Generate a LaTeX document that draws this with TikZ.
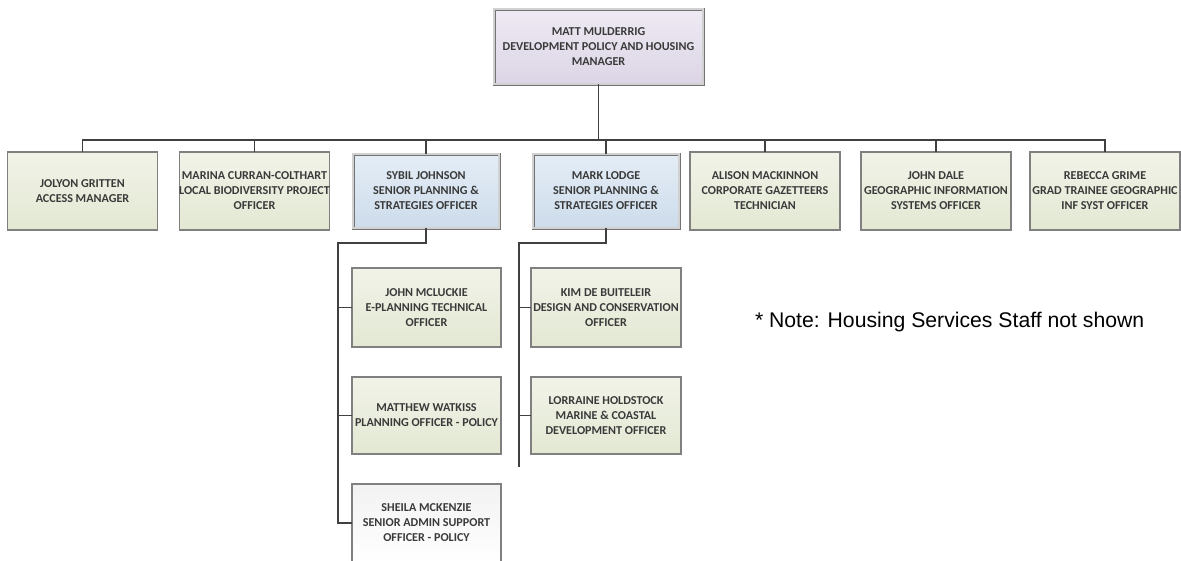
\documentclass[tikz,border=0pt]{standalone}
\usepackage{fontspec}
\setmainfont{Carlito}
\newfontfamily\notefont{Liberation Sans}
\definecolor{lavtop}{HTML}{EEEAF3}
\definecolor{lavbot}{HTML}{DCD5E6}
\definecolor{bluetop}{HTML}{E4EDF6}
\definecolor{bluebot}{HTML}{CDDCEB}
\definecolor{grntop}{HTML}{F1F3E8}
\definecolor{grnbot}{HTML}{E3E8D3}
\definecolor{txt}{HTML}{3A3A3A}
\definecolor{lne}{HTML}{404040}
\begin{document}
\begin{tikzpicture}[x=1pt,y=-1pt,
  every node/.style={inner sep=0pt, outer sep=0pt},
  orgbox/.style={draw=black!50, line width=1.1pt, minimum width=150pt, minimum height=78pt,
    align=center, text=txt, font=\fontsize{12.1}{15}\selectfont\bfseries},
  greenbox/.style={orgbox, top color=grntop, bottom color=grnbot},
  bluebox/.style={orgbox, draw=black!55, double=black!18, double distance=1.2pt, line width=0.9pt,
    top color=bluetop, bottom color=bluebot},
  topbox/.style={orgbox, draw=black!55, double=black!18, double distance=1.2pt, line width=0.9pt,
    top color=lavtop, bottom color=lavbot},
  greybox/.style={orgbox, top color=black!5, bottom color=white},
  conn/.style={draw=lne, line width=1.6pt}
]
\useasboundingbox (0,0) rectangle (1181,560);
\fill[white] (0,0) rectangle (1181,560);

\node[topbox, minimum width=209pt, minimum height=75pt] (top) at (598.5,46.5)
  {MATT MULDERRIG\\DEVELOPMENT POLICY AND HOUSING\\MANAGER};

\node[greenbox] (n1) at (82.5,191) {JOLYON GRITTEN\\ACCESS MANAGER};
\node[greenbox] (n2) at (254.5,191) {MARINA CURRAN-COLTHART\\LOCAL BIODIVERSITY PROJECT\\OFFICER};
\node[bluebox, minimum width=146pt, minimum height=74pt] (n3) at (426,191) {SYBIL JOHNSON\\SENIOR PLANNING \&\\STRATEGIES OFFICER};
\node[bluebox, minimum width=146pt, minimum height=74pt] (n4) at (606,191) {MARK LODGE\\SENIOR PLANNING \&\\STRATEGIES OFFICER};
\node[greenbox] (n5) at (765,191) {ALISON MACKINNON\\CORPORATE GAZETTEERS\\TECHNICIAN};
\node[greenbox] (n6) at (936,191) {JOHN DALE\\GEOGRAPHIC INFORMATION\\SYSTEMS OFFICER};
\node[greenbox] (n7) at (1105,191) {REBECCA GRIME\\GRAD TRAINEE GEOGRAPHIC\\INF SYST OFFICER};

\node[greenbox, minimum width=149pt, minimum height=79pt] (s1) at (426.5,307.5) {JOHN MCLUCKIE\\E-PLANNING TECHNICAL\\OFFICER};
\node[greenbox, minimum width=149pt, minimum height=77pt] (s2) at (426.5,415.5) {MATTHEW WATKISS\\PLANNING OFFICER - POLICY};
\node[greybox, minimum width=149pt, minimum height=78pt] (s3) at (426.5,523) {SHEILA MCKENZIE\\SENIOR ADMIN SUPPORT\\OFFICER - POLICY};

\node[greenbox, minimum width=150pt, minimum height=79pt] (m1) at (606,307.5) {KIM DE BUITELEIR\\DESIGN AND CONSERVATION\\OFFICER};
\node[greenbox, minimum width=150pt, minimum height=77pt] (m2) at (606,415.5) {LORRAINE HOLDSTOCK\\MARINE \& COASTAL\\DEVELOPMENT OFFICER};

\node[anchor=base west, font=\notefont\fontsize{21.2}{25}\selectfont] (note) at (755,327)
  {* Note: Housing Services Staff not shown};

% connectors
\coordinate (bus) at (0,140);
\draw[conn] (top.south) -- (top.south |- bus);
\draw[conn] (n1.north) -- (n1.north |- bus) -- (n7.north |- bus) -- (n7.north);
\foreach \n in {n2,n3,n4,n5,n6} \draw[conn] (\n.north) -- (\n.north |- bus);

\coordinate (sv) at (338,243);
\draw[conn] (n3.south) |- (sv) -- (sv |- s3.west) -- (s3.west);
\draw[conn] (sv |- s1.west) -- (s1.west);
\draw[conn] (sv |- s2.west) -- (s2.west);

\coordinate (mv) at (519,243);
\coordinate (mend) at (519,467);
\draw[conn] (n4.south) |- (mv) -- (mend);
\draw[conn] (mv |- m1.west) -- (m1.west);
\draw[conn] (mv |- m2.west) -- (m2.west);
\end{tikzpicture}
\end{document}
